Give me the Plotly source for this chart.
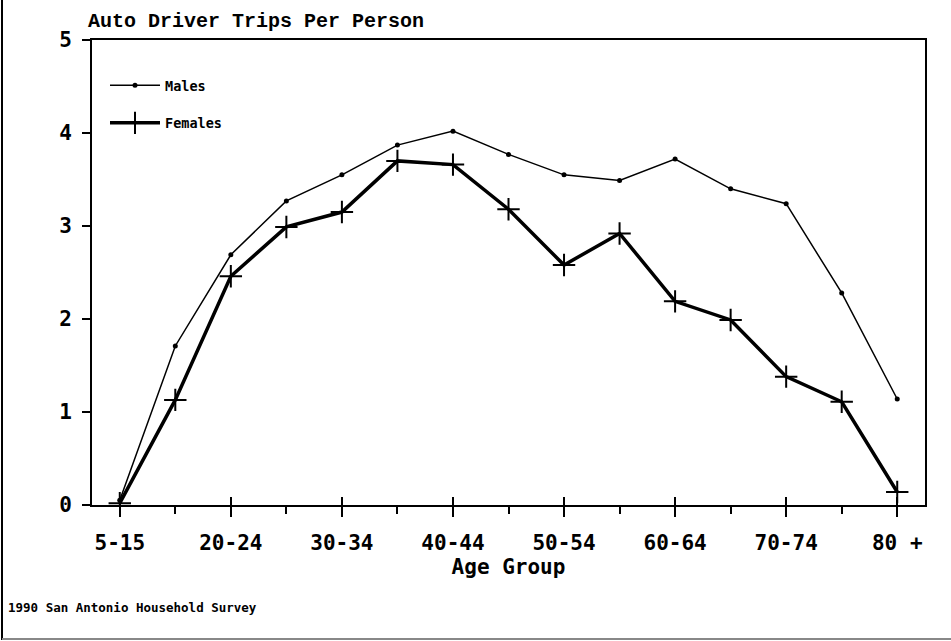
import plotly.graph_objects as go

categories = ["5-15", "16-19", "20-24", "25-29", "30-34", "35-39", "40-44", "45-49",
              "50-54", "55-59", "60-64", "65-69", "70-74", "75-79", "80 +"]
males = [0.05, 1.71, 2.69, 3.27, 3.55, 3.87, 4.02, 3.77, 3.55, 3.49, 3.72, 3.40, 3.24, 2.28, 1.14]
females = [0.02, 1.13, 2.46, 2.99, 3.15, 3.70, 3.66, 3.18, 2.58, 2.92, 2.19, 1.99, 1.38, 1.11, 0.14]
y_ticks = [0, 1, 2, 3, 4, 5]

x_idx = list(range(len(categories)))
major_idx = x_idx[::2]
major_labels = categories[::2]

MONO = "DejaVu Sans Mono"
SERIFMONO = "Liberation Mono"

fig = go.Figure()
fig.add_trace(go.Scatter(
    x=x_idx, y=males, name="Males", mode="lines+markers", legendgroup="m",
    line=dict(color="black", width=1.5),
    marker=dict(symbol="circle", size=5, color="black"),
))
fig.add_trace(go.Scatter(
    x=x_idx, y=females, name="Females", mode="lines+markers", legendgroup="f",
    line=dict(color="black", width=3.5),
    marker=dict(symbol="cross-thin-open", size=16, line=dict(color="black", width=2)),
))
# invisible trace on overlay axis to draw inner half of major ticks
fig.add_trace(go.Scatter(x=[x_idx[0]], y=[0], xaxis="x2", mode="markers",
                         marker=dict(opacity=0), showlegend=False, hoverinfo="skip"))

L, R, T, B = 92, 26, 40, 136
W, H = 951, 641
pw, ph = W - L - R, H - T - B

fig.update_layout(
    width=W, height=H,
    margin=dict(l=L, r=R, t=T, b=B),
    paper_bgcolor="white", plot_bgcolor="white",
    font=dict(family=MONO, color="black"),
    showlegend=True,
    legend=dict(x=(105 - L) / pw, y=(505 - 70) / ph, xanchor="left", yanchor="top",
                bgcolor="rgba(0,0,0,0)", tracegroupgap=17, itemwidth=50,
                font=dict(family=MONO, size=13.5, color="black", weight="bold")),
    xaxis=dict(range=[-0.5, 14.5], tickmode="array", tickvals=major_idx, ticktext=major_labels,
               ticks="outside", ticklen=10, tickwidth=2, tickcolor="black",
               ticklabelstandoff=8,
               minor=dict(dtick=1, tick0=0, ticks="outside", ticklen=7, tickwidth=1.5, tickcolor="black"),
               showline=True, linecolor="black", linewidth=2, mirror=True,
               showgrid=False, zeroline=False,
               tickfont=dict(family=MONO, size=21, color="black", weight="bold"),
               title=dict(text="Age Group", standoff=4,
                          font=dict(family=MONO, size=21, color="black", weight="bold"))),
    xaxis2=dict(overlaying="x", matches="x", range=[-0.5, 14.5], side="bottom", anchor="y",
                tickmode="array", tickvals=major_idx, showticklabels=False,
                ticks="inside", ticklen=8, tickwidth=2, tickcolor="black",
                showline=False, showgrid=False, zeroline=False),
    yaxis=dict(range=[0, 5], tickvals=y_ticks, ticks="outside", ticklen=8, tickwidth=2,
               tickcolor="black", showline=True, linecolor="black", linewidth=2, mirror=True,
               showgrid=False, zeroline=False, ticklabelstandoff=6,
               tickfont=dict(family=MONO, size=21, color="black", weight="bold")),
)

fig.add_annotation(text="Auto Driver Trips Per Person", xref="paper", yref="paper",
                   x=(86 - L) / pw, y=(505 - 8) / ph, xanchor="left", yanchor="top",
                   showarrow=False,
                   font=dict(family=SERIFMONO, size=20, color="black", weight="bold"))
fig.add_annotation(text="1990 San Antonio Household Survey", xref="paper", yref="paper",
                   x=(6 - L) / pw, y=(505 - 598) / ph, xanchor="left", yanchor="top",
                   showarrow=False,
                   font=dict(family=MONO, size=12.5, color="black", weight="bold"))

# outer frame (left and bottom edges of the scanned page)
fig.add_shape(type="line", xref="paper", yref="paper",
              x0=(2 - L) / pw, x1=(2 - L) / pw, y0=(505 - 640) / ph, y1=(505 + 0) / ph,
              line=dict(color="black", width=2))
fig.add_shape(type="line", xref="paper", yref="paper",
              x0=(2 - L) / pw, x1=(951 - L) / pw, y0=(505 - 639) / ph, y1=(505 - 639) / ph,
              line=dict(color="#888888", width=2))

fig.write_html("out.html", config={"displayModeBar": False},
               post_script="document.body.style.margin='0';document.body.style.overflow='hidden';")
